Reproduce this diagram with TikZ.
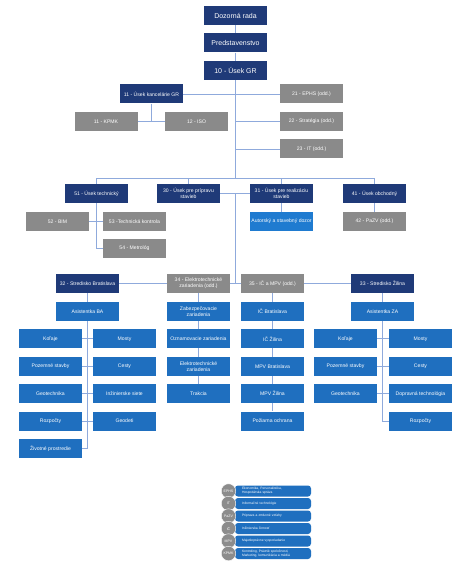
\documentclass[tikz,border=0pt]{standalone}
\usepackage{fontspec}
\setmainfont{Liberation Sans}
\usetikzlibrary{backgrounds}
\definecolor{navyc}{HTML}{1F3A78}
\definecolor{grayc}{HTML}{8A8A8A}
\definecolor{bluec}{HTML}{1F6FBF}
\definecolor{brightc}{HTML}{1F7BD0}
\definecolor{linec}{HTML}{8FAADC}
\definecolor{circc}{HTML}{8C8C8C}
\tikzset{
  box/.style={minimum width=63pt,minimum height=19pt,inner sep=0pt,text=white,align=center,
    font=\fontsize{5.1}{6}\selectfont},
  navybox/.style={box,fill=navyc},
  topbox/.style={navybox,font=\fontsize{7}{8}\selectfont},
  graybox/.style={box,fill=grayc},
  bluebox/.style={box,fill=bluec},
  brightbox/.style={box,fill=brightc},
  conn/.style={draw=linec,line width=0.9pt},
  legbar/.style={fill=bluec,rounded corners=3pt,minimum width=76pt,minimum height=11pt,inner sep=0pt,
    text=white,align=left,text width=62pt,font=\fontsize{3.3}{3.9}\selectfont},
  legcirc/.style={circle,fill=circc,draw=white,line width=0.4pt,minimum size=14.5pt,inner sep=0pt,text=white,
    font=\fontsize{3.5}{4}\selectfont},
}
\begin{document}
\begin{tikzpicture}[x=1pt,y=-1pt]
\useasboundingbox (0,0) rectangle (474,577);
% top column
\node[topbox] (dr) at (235.5,15.5) {Dozorná rada};
\node[topbox] (pr) at (235.5,43) {Predstavenstvo};
\node[topbox] (gr) at (235.5,70.5) {10 - Úsek GR};
\node[navybox] (kan) at (151.5,94) {11 - Úsek kancelárie GR};
\node[graybox] (ephs) at (311.5,94) {21 - EPHS (odd.)};
\node[graybox] (strat) at (311.5,121.5) {22 - Stratégia (odd.)};
\node[graybox] (it) at (311.5,149) {23 - IT (odd.)};
\node[graybox] (kpmk) at (106,121.5) {11 - KPMK};
\node[graybox] (iso) at (196.5,121.5) {12 - ISO};
% second level
\node[navybox] (u51) at (96.5,193.5) {51 - Úsek technický};
\node[navybox] (u30) at (188.5,193.5) {30 - Úsek pre prípravu\\stavieb};
\node[navybox] (u31) at (281.5,193.5) {31 - Úsek pre realizáciu\\stavieb};
\node[navybox] (u41) at (374.5,193.5) {41 - Úsek obchodný};
\node[graybox] (bim) at (57.5,221.5) {52 - BIM};
\node[graybox] (tk) at (134.5,221.5) {53 -Technická kontrola};
\node[graybox] (met) at (134.5,248.5) {54 - Metrológ};
\node[brightbox] (aut) at (281.5,221.5) {Autorský a stavebný dozor};
\node[graybox] (pazv) at (374.5,221.5) {42 - PaZV (odd.)};
% third level
\node[navybox] (s32) at (87.5,283.5) {32 - Stredisko Bratislava};
\node[graybox] (e34) at (198.5,283.5) {34 - Elektrotechnické\\zariadenia (odd.)};
\node[graybox] (ic35) at (272.5,283.5) {35 - IČ a MPV (odd.)};
\node[navybox] (s33) at (382.5,283.5) {33 - Stredisko Žilina};
% BA
\node[bluebox] (asba) at (87.5,311.5) {Asistentka BA};
\node[bluebox] (bkol) at (50.5,338.9) {Koľaje};
\node[bluebox] (bmos) at (124.5,338.9) {Mosty};
\node[bluebox] (bpoz) at (50.5,366.3) {Pozemné stavby};
\node[bluebox] (bces) at (124.5,366.3) {Cesty};
\node[bluebox] (bgeo) at (50.5,393.7) {Geotechnika};
\node[bluebox] (bins) at (124.5,393.7) {Inžinierske siete};
\node[bluebox] (broz) at (50.5,421.1) {Rozpočty};
\node[bluebox] (bgeod) at (124.5,421.1) {Geodeti};
\node[bluebox] (bzp) at (50.5,448.5) {Životné prostredie};
% 34
\node[bluebox] (zab) at (198.5,311.5) {Zabezpečovacie\\zariadenia};
\node[bluebox] (ozn) at (198.5,338.9) {Oznamovacie zariadenia};
\node[bluebox] (ele) at (198.5,366.3) {Elektrotechnické\\zariadenia};
\node[bluebox] (tra) at (198.5,393.7) {Trakcia};
% 35
\node[bluebox] (icba) at (272.5,311.5) {IČ Bratislava};
\node[bluebox] (icza) at (272.5,338.9) {IČ Žilina};
\node[bluebox] (mpvba) at (272.5,366.3) {MPV Bratislava};
\node[bluebox] (mpvza) at (272.5,393.7) {MPV Žilina};
\node[bluebox] (poz) at (272.5,421.1) {Požiarna ochrana};
% ZA
\node[bluebox] (asza) at (382.5,311.5) {Asistentka ZA};
\node[bluebox] (zkol) at (345.5,338.9) {Koľaje};
\node[bluebox] (zmos) at (420.5,338.9) {Mosty};
\node[bluebox] (zpoz) at (345.5,366.3) {Pozemné stavby};
\node[bluebox] (zces) at (420.5,366.3) {Cesty};
\node[bluebox] (zgeo) at (345.5,393.7) {Geotechnika};
\node[bluebox] (zdop) at (420.5,393.7) {Dopravná technológia};
\node[bluebox] (zroz) at (420.5,421.1) {Rozpočty};
% coordinates
\coordinate (b1l) at (96.5,178);
\coordinate (b1r) at (374.5,178);
\coordinate (b1m) at (235.5,178);
\coordinate (m3031) at (235.5,193.5);
\coordinate (b2m) at (235.5,283.5);
\coordinate (kanb) at (151.5,121.5);
\coordinate (k51) at (96.5,248.5);
\coordinate (kba) at (87.5,448.5);
\coordinate (kza) at (382.5,421.1);
% legend
\foreach \y/\n/\t [count=\i] in {491/EPHS/{Ekonomika, Personalistika,\\Hospodárska správa},
  503.5/IT/{Informačné technológie},
  516/PaZV/{Príprava a zmluvné vzťahy},
  528.5/IČ/{Inžinierska činnosť},
  541/MPV/{Majetkoprávne vysporiadanie},
  553.5/KPMK/{Kontroling, Právnik spoločnosti,\\Marketing, komunikácia a médiá}}{
  \node[legbar] (lb\i) at (273,\y) {\t};
  \node[legcirc] (lc\i) at (228.5,\y) {\n};
}
\begin{scope}[on background layer]
\fill[white] (0,0) rectangle (474,577);
\draw[conn] (dr) -- (pr);
\draw[conn] (pr) -- (gr);
\draw[conn] (gr.south) -- (b1m);
\draw[conn] (kan.east) -- (ephs.west);
\draw[conn] (strat.west) -- (strat.west -| gr);
\draw[conn] (it.west) -- (it.west -| gr);
\draw[conn] (kan.south) -- (kanb);
\draw[conn] (kpmk.east) -- (iso.west);
\draw[conn] (b1l) -- (b1r);
\foreach \n in {u51,u30,u31,u41} \draw[conn] (\n.north) -- (\n.north |- b1l);
\draw[conn] (u30.east) -- (u31.west);
\draw[conn] (m3031) -- (b2m);
\draw[conn] (u51.south) -- (k51) -- (met.west);
\draw[conn] (bim.east) -- (tk.west);
\draw[conn] (u31.south) -- (aut.north);
\draw[conn] (u41.south) -- (pazv.north);
\draw[conn] (s32.east) -- (s33.west);
\draw[conn] (s32.south) -- (asba.north);
\draw[conn] (asba.south) -- (kba) -- (bzp.east);
\draw[conn] (bkol.east) -- (bmos.west);
\draw[conn] (bpoz.east) -- (bces.west);
\draw[conn] (bgeo.east) -- (bins.west);
\draw[conn] (broz.east) -- (bgeod.west);
\draw[conn] (e34.south) -- (tra.north);
\draw[conn] (ic35.south) -- (poz.north);
\draw[conn] (s33.south) -- (asza.north);
\draw[conn] (asza.south) -- (kza) -- (zroz.west);
\draw[conn] (zkol.east) -- (zmos.west);
\draw[conn] (zpoz.east) -- (zces.west);
\draw[conn] (zgeo.east) -- (zdop.west);
\end{scope}
\end{tikzpicture}
\end{document}
